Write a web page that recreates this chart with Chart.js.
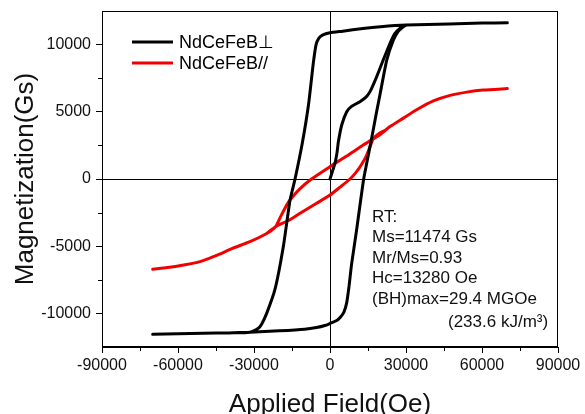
<!DOCTYPE html>
<html>
<head>
<meta charset="utf-8">
<script src="https://cdn.jsdelivr.net/npm/chart.js@4.4.0/dist/chart.umd.min.js"></script>
<style>
  html, body { margin: 0; padding: 0; background: #fff; }
</style>
</head>
<body>
<canvas id="loopChart" width="585" height="414"></canvas>
<script>
const seriesLabels = ['NdCeFeB\u22A5', 'NdCeFeB//'];

const xTicks = [-90000, -60000, -30000, 0, 30000, 60000, 90000];
const yTicks = [-10000, -5000, 0, 5000, 10000];

// NdCeFeB perpendicular: descending branch, ascending branch, initial curve
const perpDownH = [70000, 60000, 47000, 30000, 20000, 13000, 5000, 0, -3000, -4500, -5500, -6600, -8500, -11000, -13800, -15800, -18400, -21700, -25000, -27000, -28300, -31600, -40000, -50000, -60000, -70000];
const perpDownM = [11620, 11600, 11530, 11450, 11330, 11200, 11000, 10880, 10700, 10450, 10000, 8600, 5500, 2600, 0, -1600, -5000, -8200, -10000, -10800, -11100, -11400, -11450, -11480, -11520, -11560];
const perpUpH = [-70000, -60000, -50000, -40000, -31600, -20000, -10000, -5300, -2000, 0, 2500, 4000, 5500, 6600, 7500, 8550, 10500, 13300, 16000, 18400, 19700, 22400, 25000, 27000, 28900, 30000];
const perpUpM = [-11560, -11520, -11480, -11450, -11400, -11300, -11180, -11050, -10900, -10750, -10550, -10300, -9900, -9200, -8000, -6300, -3800, 0, 2600, 5000, 6250, 8850, 10330, 11000, 11330, 11450];
const perpInitH = [0, 2000, 2800, 3300, 4600, 6600, 8500, 11800, 14000, 15800, 18400, 21000, 23700, 25500, 27600, 29500];
const perpInitM = [0, 1200, 2000, 2770, 4000, 5000, 5400, 5750, 6050, 6500, 7600, 8850, 10100, 10800, 11200, 11420];

// NdCeFeB parallel: descending branch, ascending branch
const parDownH = [70000, 60500, 54000, 47400, 40800, 34200, 29000, 23700, 19700, 13150, 6600, 0, -7300, -12000, -15800, -17100, -19500, -21500, -25000, -31600, -38300, -45000, -51300, -60000, -70000];
const parDownM = [6730, 6620, 6465, 6220, 5810, 5150, 4530, 3900, 3300, 2530, 1710, 920, 0, -750, -1560, -1930, -2800, -3550, -4050, -4660, -5150, -5700, -6150, -6470, -6720];
const parUpH = [-70000, -60000, -51300, -45000, -38300, -31600, -25000, -21500, -16000, -11800, -5300, 0, 4000, 7900, 10500, 12500, 14500, 16000, 17100, 19500, 22000, 23700];
const parUpM = [-6720, -6470, -6150, -5700, -5150, -4660, -4050, -3550, -3050, -2550, -1810, -1190, -600, 0, 550, 1100, 1780, 2500, 3000, 3400, 3650, 3900];

const noteLines = ['RT:', 'Ms=11474 Gs', 'Mr/Ms=0.93', 'Hc=13280 Oe', '(BH)max=29.4 MGOe'];
const noteLast = '(233.6 kJ/m\u00B3)';

const FONT = "'Liberation Sans', Arial, sans-serif";

function toPoints(h, m) {
    return h.map((v, i) => ({x: v, y: m[i]}));
}

const extras = {
    id: 'extras',
    afterDraw(chart) {
        const ctx = chart.ctx;
        const a = chart.chartArea;
        const xs = chart.scales.x;
        const ys = chart.scales.y;
        ctx.save();

        // frame
        ctx.strokeStyle = '#000';
        ctx.lineWidth = 1;
        ctx.strokeRect(Math.round(a.left) + 0.5, Math.round(a.top) + 0.5,
            Math.round(a.right - a.left) - 1, Math.round(a.bottom - a.top) - 1);

        // minor ticks
        ctx.beginPath();
        for (let i = 0; i < xTicks.length - 1; i++) {
            const px = Math.round(xs.getPixelForValue((xTicks[i] + xTicks[i + 1]) / 2)) + 0.5;
            ctx.moveTo(px, a.bottom);
            ctx.lineTo(px, a.bottom + 4);
        }
        for (let i = 0; i < yTicks.length - 1; i++) {
            const py = Math.round(ys.getPixelForValue((yTicks[i] + yTicks[i + 1]) / 2)) + 0.5;
            ctx.moveTo(a.left, py);
            ctx.lineTo(a.left - 4, py);
        }
        ctx.stroke();

        // legend
        ctx.font = '18px ' + FONT;
        ctx.textBaseline = 'middle';
        ctx.textAlign = 'left';
        const legendSets = chart.data.datasets.filter(d => d.label);
        legendSets.forEach((d, i) => {
            const y = a.top + 31 + i * 21;
            ctx.strokeStyle = d.borderColor;
            ctx.lineWidth = 3;
            ctx.beginPath();
            ctx.moveTo(a.left + 30, y);
            ctx.lineTo(a.left + 71, y);
            ctx.stroke();
            ctx.fillStyle = '#000';
            ctx.fillText(d.label, a.left + 77, y + 1);
        });

        // note
        ctx.font = '17px ' + FONT;
        ctx.fillStyle = '#111';
        noteLines.forEach((t, i) => {
            ctx.fillText(t, 372, 217 + i * 20.6);
        });
        ctx.fillText(noteLast, 448, 322);
        ctx.restore();
    }
};

const config = {
    type: 'scatter',
    data: {
        datasets: [{
            label: seriesLabels[0],
            data: toPoints(perpDownH.concat(perpUpH), perpDownM.concat(perpUpM)),
            borderColor: '#000',
            showLine: true,
        }, {
            label: '',
            data: toPoints(perpInitH, perpInitM),
            borderColor: '#000',
            showLine: true,
        }, {
            label: seriesLabels[1],
            data: toPoints(parDownH.concat(parUpH), parDownM.concat(parUpM)),
            borderColor: '#f20000',
            showLine: true,
        }]
    },
    options: {
        responsive: false,
        animation: false,
        layout: { padding: { top: 11, right: 27, left: 0, bottom: 0 } },
        elements: {
            point: { radius: 0 },
            line: { borderWidth: 3, tension: 0.2, borderCapStyle: 'round', borderJoinStyle: 'round' }
        },
        plugins: {
            legend: { display: false },
            tooltip: { enabled: false }
        },
        scales: {
            x: {
                type: 'linear',
                min: -90000,
                max: 90000,
                afterBuildTicks: s => { s.ticks = xTicks.map(v => ({value: v})); },
                afterFit: s => { s.height = 67; s.paddingLeft = 0; s.paddingRight = 0; },
                border: { color: '#000', width: 1 },
                grid: {
                    color: c => (c.tick && c.tick.value === 0) ? '#000' : 'rgba(0,0,0,0)',
                    tickColor: '#000',
                    tickLength: 6,
                },
                ticks: {
                    color: '#111',
                    padding: 3,
                    maxRotation: 0,
                    autoSkip: false,
                    font: { family: FONT, size: 16 },
                    callback: v => String(v)
                },
                title: {
                    display: true,
                    text: 'Applied Field(Oe)',
                    color: '#111',
                    font: { family: FONT, size: 26, lineHeight: 0.7 },
                    padding: { top: 0, bottom: 0 }
                }
            },
            y: {
                type: 'linear',
                min: -12500,
                max: 12500,
                afterBuildTicks: s => { s.ticks = yTicks.map(v => ({value: v})); },
                afterFit: s => { s.width = 102; s.paddingTop = 0; s.paddingBottom = 0; },
                border: { color: '#000', width: 1 },
                grid: {
                    color: c => (c.tick && c.tick.value === 0) ? '#000' : 'rgba(0,0,0,0)',
                    tickColor: '#000',
                    tickLength: 6,
                },
                ticks: {
                    color: '#111',
                    padding: 5,
                    autoSkip: false,
                    font: { family: FONT, size: 16 },
                    callback: v => String(v)
                },
                title: {
                    display: true,
                    text: 'Magnetization(Gs)',
                    color: '#111',
                    font: { family: FONT, size: 26, lineHeight: 1.2 },
                    padding: { top: 10, bottom: 0 }
                }
            }
        }
    },
    plugins: [extras]
};

const loopChart = new Chart(document.getElementById('loopChart'), config);
</script>
</body>
</html>
